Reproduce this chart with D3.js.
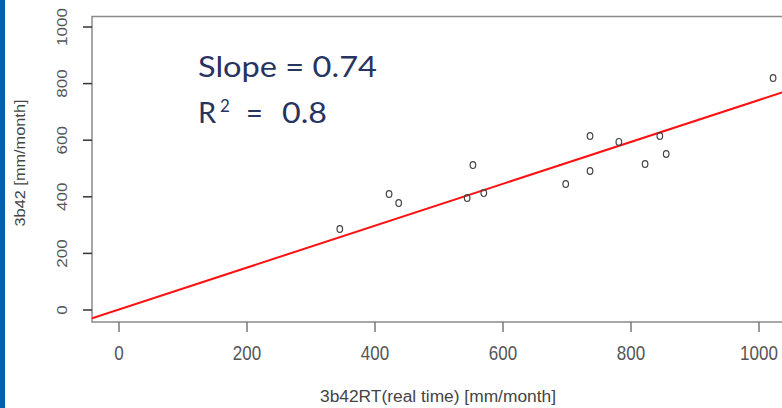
<!DOCTYPE html>
<meta charset="utf-8">
<style>
body { margin: 0; background: #fff; }
svg { display: block; }
.tick-label { font-family: "Liberation Sans", Arial, sans-serif; fill: #555; }
.axis-title { font-family: "Liberation Sans", Arial, sans-serif; fill: #444; }
.note { font-family: "Lato", "Noto Sans", sans-serif; font-weight: 400; fill: #27345f; }
</style>
<svg width="782" height="408"></svg>
<script src="https://d3js.org/d3.v7.min.js"></script>
<script>

// observed rainfall, real time (x) vs 3b42 (y), mm/month
var rtValues = [345, 422, 437, 544, 553, 570, 698, 736, 736, 781, 822, 845, 855, 1022];
var gaugeValues = [286, 410, 378, 396, 512, 413, 445, 615, 491, 594, 516, 615, 551, 820];

var xTicks = [0, 200, 400, 600, 800, 1000];
var yTicks = [0, 200, 400, 600, 800, 1000];

var slope = 0.74,
    intercept = 2;

var svg = d3.select("svg");

var x = d3.scaleLinear().domain([0, 1000]).range([119, 759]);
var y = d3.scaleLinear().domain([0, 1000]).range([310, 27]);

var box = { left: 92, top: 16.5, bottom: 322, right: 790 };

// the source picture is stretched a little in height
var stretch = 1.14;

// blue edge on the left
svg.append("rect")
    .attr("x", 0).attr("y", 0)
    .attr("width", 5).attr("height", 408)
    .attr("fill", "#0061b0");

// plot frame
svg.append("path")
    .attr("d", "M" + box.right + "," + box.top + "H" + box.left + "V" + box.bottom + "H" + box.right)
    .attr("fill", "none")
    .attr("stroke", "#8a8a8a")
    .attr("stroke-width", 1.5);

// x axis ticks + labels
svg.selectAll(".xtick")
    .data(xTicks)
  .enter().append("line")
    .attr("x1", function(d) { return x(d); })
    .attr("x2", function(d) { return x(d); })
    .attr("y1", box.bottom)
    .attr("y2", box.bottom + 10)
    .attr("stroke", "#777")
    .attr("stroke-width", 1.5);

svg.selectAll(".xlab")
    .data(xTicks)
  .enter().append("text")
    .attr("class", "tick-label")
    .attr("transform", function(d) { return "translate(" + x(d) + ",360) scale(1," + stretch + ")"; })
    .attr("text-anchor", "middle")
    .style("font-size", "17px")
    .text(function(d) { return d; });

// y axis ticks + labels (rotated)
svg.selectAll(".ytick")
    .data(yTicks)
  .enter().append("line")
    .attr("x1", box.left - 9)
    .attr("x2", box.left)
    .attr("y1", function(d) { return y(d); })
    .attr("y2", function(d) { return y(d); })
    .attr("stroke", "#333")
    .attr("stroke-width", 1.5);

svg.selectAll(".ylab")
    .data(yTicks)
  .enter().append("text")
    .attr("class", "tick-label")
    .attr("transform", function(d) { return "translate(67," + y(d) + ") scale(1," + stretch + ") rotate(-90)"; })
    .attr("text-anchor", "middle")
    .style("font-size", "15px")
    .text(function(d) { return d; });

// axis titles
svg.append("text")
    .attr("class", "axis-title")
    .attr("x", 438)
    .attr("y", 402)
    .attr("text-anchor", "middle")
    .attr("textLength", 236)
    .attr("lengthAdjust", "spacingAndGlyphs")
    .style("font-size", "16px")
    .text("3b42RT(real time) [mm/month]");

svg.append("text")
    .attr("class", "axis-title")
    .attr("transform", "translate(25,163) rotate(-90)")
    .attr("text-anchor", "middle")
    .attr("textLength", 127)
    .attr("lengthAdjust", "spacingAndGlyphs")
    .style("font-size", "15px")
    .text("3b42 [mm/month]");

// regression line, clipped to the frame
svg.append("clipPath")
    .attr("id", "plot-clip")
  .append("rect")
    .attr("x", box.left).attr("y", box.top)
    .attr("width", box.right - box.left)
    .attr("height", box.bottom - box.top);

var xs = [x.invert(box.left), x.invert(782)];
var line = d3.line()
    .x(function(d) { return x(d); })
    .y(function(d) { return y(slope * d + intercept); });

svg.append("path")
    .datum(xs)
    .attr("clip-path", "url(#plot-clip)")
    .attr("d", line)
    .attr("fill", "none")
    .attr("stroke", "#ff1010")
    .attr("stroke-width", 2);

// points (open circles, a bit taller than wide like the source)
svg.selectAll(".pt")
    .data(rtValues)
  .enter().append("ellipse")
    .attr("cx", function(d) { return x(d); })
    .attr("cy", function(d, i) { return y(gaugeValues[i]); })
    .attr("rx", 2.8)
    .attr("ry", 3.4)
    .attr("fill", "none")
    .attr("stroke", "#444")
    .attr("stroke-width", 1.2);

// annotation
svg.append("text")
    .attr("class", "note")
    .attr("x", 198)
    .attr("y", 77)
    .attr("textLength", 179)
    .attr("lengthAdjust", "spacingAndGlyphs")
    .style("font-size", "29px")
    .text("Slope = 0.74");

var r2 = svg.append("g");
r2.append("text").attr("class", "note").attr("x", 198).attr("y", 123).style("font-size", "29px").text("R");
r2.append("text").attr("class", "note").attr("x", 220).attr("y", 112).style("font-size", "17px").text("2");
r2.append("text").attr("class", "note").attr("x", 246).attr("y", 123).style("font-size", "29px").text("=");
r2.append("text").attr("class", "note").attr("x", 282).attr("y", 123).style("font-size", "29px")
    .attr("textLength", 45).attr("lengthAdjust", "spacingAndGlyphs").text("0.8");

</script>
